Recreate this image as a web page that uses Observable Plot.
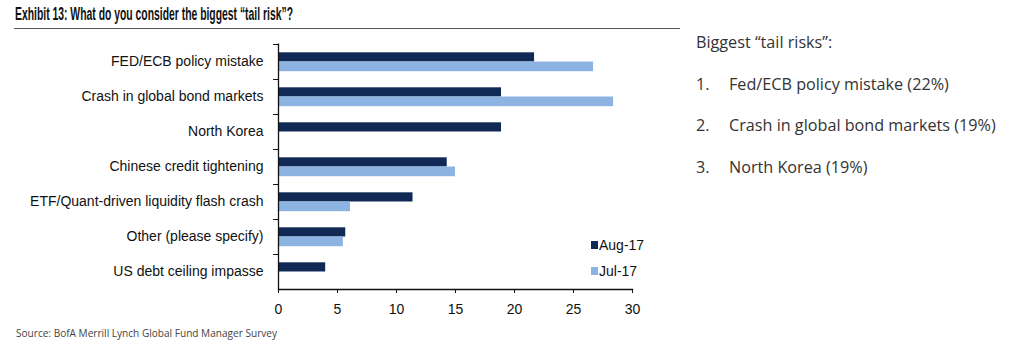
<!DOCTYPE html>
<html>
<head>
<meta charset="utf-8">
<script src="https://cdn.jsdelivr.net/npm/d3@7"></script>
<script src="https://cdn.jsdelivr.net/npm/@observablehq/plot@0.6"></script>
<style>
  html, body { margin: 0; padding: 0; background: #fff; }
  #wrap { position: relative; width: 1024px; height: 360px; overflow: hidden; background: #fff; }
  #chart { position: absolute; left: 0; top: 0; }
  .fit { position: absolute; white-space: nowrap; transform-origin: 0 50%; }
  #title { left: 15px; top: 4px; font: bold 18px "Liberation Sans", Arial, sans-serif; color: #111; line-height: 20px; }
  #rule { position: absolute; left: 14px; top: 28px; width: 666px; height: 0; border-top: 1px solid #555; }
  #source { left: 16px; top: 326px; font: 11px "Open Sans", sans-serif; color: #444; line-height: 14px; }
  #legend { position: absolute; left: 591px; top: 232px; font: 14px "Liberation Sans", Arial, sans-serif; color: #111; }
  #legend div { height: 26px; line-height: 20px; display: flex; align-items: center; }
  #legend span.sw { display: inline-block; width: 7px; height: 8px; margin-right: 1px; }
  #side { position: absolute; left: 696px; top: 30px; font: 16.2px "Open Sans", sans-serif; color: #333; }
  #side .head { position: absolute; left: 0; top: 0; white-space: nowrap; line-height: 24px; }
  #side .item { position: absolute; left: 0; white-space: nowrap; line-height: 24px; }
  #side .num { display: inline-block; width: 33px; }
</style>
</head>
<body>
<div id="wrap">
  <div id="chart"></div>
  <div id="title" class="fit">Exhibit 13: What do you consider the biggest “tail risk”?</div>
  <div id="rule"></div>
  <div id="source" class="fit">Source: BofA Merrill Lynch Global Fund Manager Survey</div>
  <div id="legend"></div>
  <div id="side"></div>
</div>
<script>
const categories = [
  "FED/ECB policy mistake",
  "Crash in global bond markets",
  "North Korea",
  "Chinese credit tightening",
  "ETF/Quant-driven liquidity flash crash",
  "Other (please specify)",
  "US debt ceiling impasse"
];
const seriesNames = ["Aug-17", "Jul-17"];
const aug17 = [21.7, 18.9, 18.9, 14.3, 11.4, 5.7, 4.0];
const jul17 = [26.7, 28.4, null, 15.0, 6.1, 5.5, null];
const xTicks = [0, 5, 10, 15, 20, 25, 30];
const colors = ["#112a55", "#8db3e2"];

const sideTitle = "Biggest “tail risks”:";
const sideItems = [
  "Fed/ECB policy mistake (22%)",
  "Crash in global bond markets (19%)",
  "North Korea (19%)"
];

const augData = categories.map((c, i) => ({category: c, value: aug17[i]})).filter(d => d.value != null);
const julData = categories.map((c, i) => ({category: c, value: jul17[i]})).filter(d => d.value != null);
const boundaries = categories.map((c, i) => ({category: c}));

const plot = Plot.plot({
  width: 680,
  height: 330,
  marginLeft: 278,
  marginRight: 48,
  marginTop: 43.5,
  marginBottom: 41,
  style: {fontFamily: "'Liberation Sans', Arial, sans-serif", fontSize: "14px", color: "#111", background: "transparent"},
  x: {domain: [0, 30]},
  y: {domain: categories, padding: 0},
  marks: [
    Plot.barX(augData, {x: "value", y: "category", fill: colors[0], insetTop: 8.3, insetBottom: 17.5}),
    Plot.barX(julData, {x: "value", y: "category", fill: colors[1], insetTop: 17.5, insetBottom: 7.8}),
    Plot.ruleY(boundaries, {y: "category", x1: 0, x2: 0, dy: -17.5, insetLeft: -5, stroke: "#111", strokeWidth: 1}),
    Plot.ruleX([0], {stroke: "#111", strokeWidth: 1.3}),
    Plot.frame({anchor: "bottom", stroke: "#111", strokeWidth: 1.3}),
    Plot.axisX({ticks: xTicks, tickSize: 4, tickPadding: 11, fontSize: 14, label: null, stroke: "#111"}),
    Plot.axisY({tickSize: 0, tickPadding: 15, fontSize: 14, label: null})
  ]
});
document.getElementById("chart").appendChild(plot);

// legend
const legend = document.getElementById("legend");
seriesNames.forEach((s, i) => {
  const row = document.createElement("div");
  const sw = document.createElement("span");
  sw.className = "sw";
  sw.style.background = colors[i];
  row.appendChild(sw);
  row.appendChild(document.createTextNode(s));
  legend.appendChild(row);
});

// side panel
const side = document.getElementById("side");
const head = document.createElement("div");
head.className = "head";
head.textContent = sideTitle;
side.appendChild(head);
sideItems.forEach((t, i) => {
  const it = document.createElement("div");
  it.className = "item";
  it.style.top = (41.5 + i * 41.5) + "px";
  const n = document.createElement("span");
  n.className = "num";
  n.textContent = (i + 1) + ".";
  it.appendChild(n);
  it.appendChild(document.createTextNode(t));
  side.appendChild(it);
});

// fit condensed texts to the reference widths
function fit(id, w) {
  const el = document.getElementById(id);
  const cw = el.getBoundingClientRect().width;
  el.style.transform = `scaleX(${w / cw})`;
}
fit("title", 278);
fit("source", 261);
</script>
</body>
</html>
